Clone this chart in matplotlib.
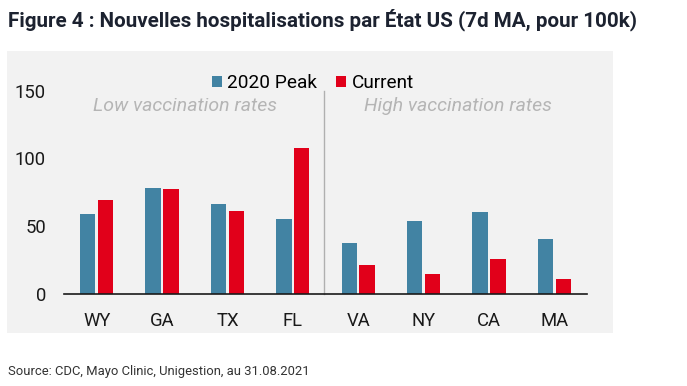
import numpy as np
import matplotlib
matplotlib.use('Agg')
from matplotlib import pyplot as plt
from matplotlib.patches import Rectangle

states = ['WY', 'GA', 'TX', 'FL', 'VA', 'NY', 'CA', 'MA']
peak_2020 = [58.7, 78.3, 66.5, 55.3, 37.3, 54.0, 60.7, 40.3]
current = [69.3, 77.6, 61.0, 107.4, 21.1, 14.5, 25.6, 11.3]
y_ticks = [0, 50, 100, 150]

blue = '#4283a3'
red = '#e1001a'

plt.rcParams['font.family'] = ['Roboto', 'DejaVu Sans']

fig = plt.figure(figsize=(6.87, 3.86), dpi=100)
fig.patches.append(Rectangle((7 / 687, 1 - 333 / 386), 606 / 687, 282 / 386,
                             transform=fig.transFigure, facecolor='#f2f2f2',
                             edgecolor='none', zorder=-5))

ax = fig.add_axes([64 / 687, 92 / 386, 523 / 687, 203.5 / 386])
ax.set_facecolor('none')

x = np.arange(len(states))
w = 0.235
ax.bar(x - w / 2 - 0.02, peak_2020, width=w, color=blue, label='2020 Peak')
ax.bar(x + w / 2 + 0.02, current, width=w, color=red, label='Current')

ax.set_xlim(-0.5, len(states) - 0.5)
ax.set_ylim(0, 150)
ax.set_yticks(y_ticks)
ax.set_xticks(x)
ax.set_xticklabels(states)
ax.tick_params(axis='both', length=0, labelsize=13.3, colors='#1a1a1a')
ax.tick_params(axis='y', pad=13)
ax.tick_params(axis='x', pad=13)
for s in ['top', 'right', 'left']:
    ax.spines[s].set_visible(False)
ax.spines['bottom'].set_color('#1a1a1a')
ax.spines['bottom'].set_linewidth(1.2)

# divider between the two groups
ax.plot([3.48, 3.48], [0, 150], color='#b0b0b0', lw=1, clip_on=False)

ax.legend(loc='center', bbox_to_anchor=(0.476, 1.037), ncol=2, frameon=False,
          fontsize=13.7, handlelength=0.5, handleheight=0.5, handletextpad=0.3,
          columnspacing=1.0, borderpad=0)

ax.text(1.35, 138.5, 'Low vaccination rates', ha='center', va='center',
        fontsize=14, style='italic', color='#b5b5b5')
ax.text(5.52, 138.5, 'High vaccination rates', ha='center', va='center',
        fontsize=14, style='italic', color='#b5b5b5')

fig.text(8 / 687, 1 - 20 / 386, 'Figure 4 : Nouvelles hospitalisations par État US (7d MA, pour 100k)',
         ha='left', va='center', fontsize=14.9, fontweight='bold', color='#1c2230')
fig.text(8 / 687, 1 - 371 / 386, 'Source: CDC, Mayo Clinic, Unigestion, au 31.08.2021',
         ha='left', va='center', fontsize=9.4, color='#333333')

fig.savefig('out.png', dpi=100)
